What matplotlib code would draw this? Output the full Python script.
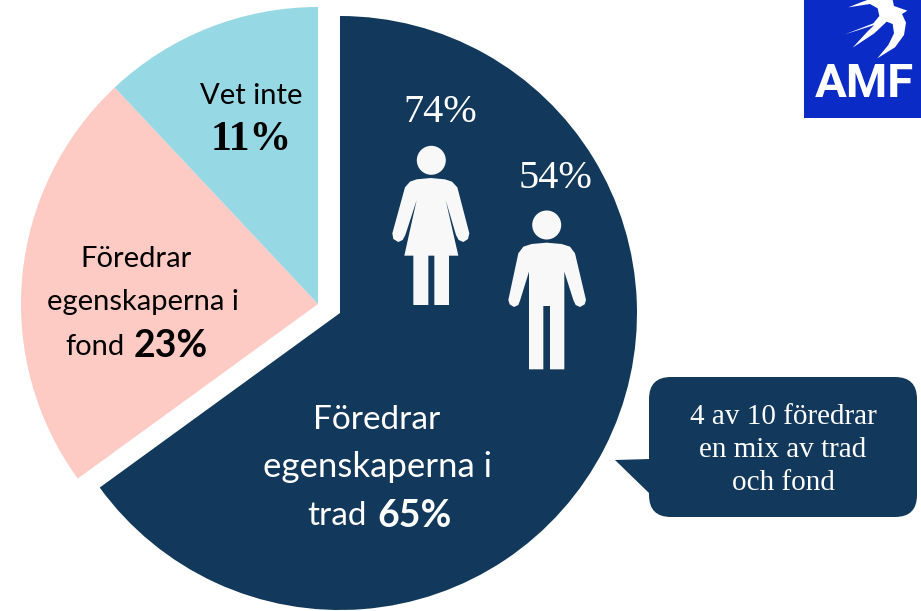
import numpy as np
from matplotlib import pyplot as plt
from matplotlib.patches import Circle, FancyBboxPatch, Polygon, Rectangle

# Pie shares (the printed label says 11%)
categories = ["trad", "fond", "vet inte"]
shares = [65, 23, 12]
slice_colors = ["#12395b", "#fecac4", "#97d8e5"]

women_pct = "74%"
men_pct = "54%"
trad_pct = "65%"
fond_pct = "23%"
unknown_pct = "11%"
callout_lines = "4 av 10 föredrar\nen mix av trad\noch fond"

SANS = "Lato"
SERIF = "Liberation Serif"
DARK = "#12395b"
ICON = "#f8f8f8"
LOGO = "#0a2bc6"

fig = plt.figure(figsize=(9.21, 6.11), dpi=100)
ax = fig.add_axes([0, 0, 1, 1])

# y axis runs downwards, so counterclock here shows up clockwise on screen
wedges, _ = ax.pie(shares, colors=slice_colors, startangle=-90, counterclock=True,
                   center=(340, 313), radius=297, frame=False)
wedges[1].set_center((318, 304))
wedges[2].set_center((318, 304))
ax.set_xlim(0, 921)
ax.set_ylim(611, 0)
ax.set_aspect("equal")
ax.axis("off")


def from_crop(points, x0=380, y0=90):
    """Convert points measured on a 3x crop of the reference to pixels."""
    return [(x0 + x / 3, y0 + y / 3) for x, y in points]


woman = [(110, 268), (152, 264), (195, 268), (216, 275), (232, 292), (268, 430), (264, 447),
         (250, 456), (236, 450), (228, 435), (197, 330), (235, 497), (207, 497), (207, 645),
         (163, 645), (163, 497), (145, 497), (145, 645), (100, 645), (100, 497),
         (73, 497), (110, 330), (76, 435), (68, 450), (55, 456), (40, 447),
         (37, 430), (75, 292), (90, 275)]
man = [(455, 462), (500, 458), (545, 462), (570, 470), (585, 490), (618, 630), (614, 643),
       (600, 651), (587, 645), (580, 630), (553, 545), (553, 838), (510, 838), (510, 648),
       (490, 648), (490, 838), (447, 838), (447, 545), (420, 632), (415, 645),
       (402, 651), (389, 643), (385, 630), (415, 490), (430, 470)]
ax.add_patch(Polygon(from_crop(woman), closed=True, fc=ICON, ec="none"))
ax.add_patch(Polygon(from_crop(man), closed=True, fc=ICON, ec="none"))
ax.add_patch(Circle((431.3, 160.3), 14.5, fc=ICON, ec="none"))
ax.add_patch(Circle((546.7, 225), 14.5, fc=ICON, ec="none"))

ax.text(440, 113, women_pct, color="white", family=SERIF, fontsize=29, ha="center", va="center")
ax.text(555, 178, men_pct, color="white", family=SERIF, fontsize=29, ha="center", va="center")

# Pink slice labels
ax.text(136, 259, "Föredrar", color="black", family=SANS, fontsize=21, ha="center", va="center")
ax.text(143, 302, "egenskaperna i", color="black", family=SANS, fontsize=21, ha="center", va="center")
ax.text(125, 347, "fond", color="black", family=SANS, fontsize=21, ha="right", va="center")
ax.text(134, 346, fond_pct, color="black", family=SANS, fontsize=27, weight="bold", ha="left", va="center")

# Light blue slice labels
ax.text(251, 96, "Vet inte", color="black", family=SANS, fontsize=21, ha="center", va="center")
ax.text(251, 140, unknown_pct, color="black", family=SERIF, fontsize=30, weight="bold", ha="center", va="center")

# Dark slice labels
ax.text(377, 420, "Föredrar", color="white", family=SANS, fontsize=24, ha="center", va="center")
ax.text(377, 467, "egenskaperna i", color="white", family=SANS, fontsize=25, ha="center", va="center")
ax.text(367, 516, "trad", color="white", family=SANS, fontsize=24, ha="right", va="center")
ax.text(377, 516, trad_pct, color="white", family=SANS, fontsize=27, weight="bold", ha="left", va="center")

# Speech bubble
ax.add_patch(FancyBboxPatch((671, 399), 224, 96, boxstyle="round,pad=22,rounding_size=22",
                            fc=DARK, ec="none"))
ax.add_patch(Polygon([(615, 460), (650, 459), (650, 494)], closed=True, fc=DARK, ec="none"))
ax.text(783, 450, callout_lines, color="white", family=SERIF, fontsize=21, ha="center",
        va="center", linespacing=1.33)

# AMF logo
ax.add_patch(Rectangle((804, 0), 117, 118, fc=LOGO, ec="none"))
bird = [(205, 22), (240, 8), (262, 0), (338, 0), (342, 18), (382, 32), (366, 42), (378, 68),
        (372, 105), (345, 142), (292, 175), (325, 135), (342, 100), (338, 72), (320, 65),
        (283, 100), (218, 143), (262, 95), (283, 75), (195, 103), (280, 70), (298, 48),
        (293, 25), (270, 12)]
ax.add_patch(Polygon(from_crop(bird, 780, 0), closed=True, fc="white", ec="none"))
ax.text(864.5, 84, "AMF", color="white", family="Roboto", fontsize=34, weight="bold",
        ha="center", va="center")

fig.savefig("out.png", dpi=100)
